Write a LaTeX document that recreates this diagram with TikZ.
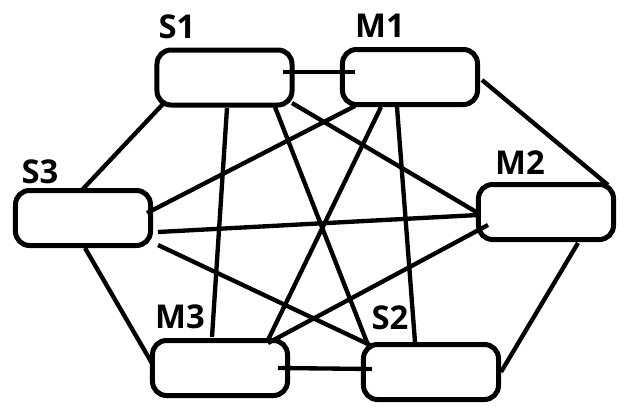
\documentclass[tikz,border=0pt]{standalone}
\usepackage{fontspec}
\setmainfont{Open Sans}
\usetikzlibrary{calc}
\begin{document}
\begin{tikzpicture}[x=0.03cm,y=-0.03cm,
  box/.style={draw,line width=0.15cm,rounded corners=0.42cm,minimum width=4.05cm,minimum height=1.65cm,inner sep=0pt},
  lbl/.style={inner sep=0pt,font=\fontsize{28}{30}\selectfont\bfseries},
  link/.style={line width=0.13cm}]
\useasboundingbox (0,0) rectangle (633,417);
% boxes
\node[box] (S1) at (224.5,77.5) {};
\node[box] (M1) at (410,77) {};
\node[box] (S3) at (83,218) {};
\node[box] (M2) at (546,212) {};
\node[box] (M3) at (220,368) {};
\node[box] (S2) at (431,372) {};
% labels
\node[lbl] (lS1) at (177,27) {S1};
\node[lbl] (lM1) at (380,26) {M1};
\node[lbl] (lS3) at (40,172) {S3};
\node[lbl] (lM2) at (520,163) {M2};
\node[lbl] (lM3) at (180,317) {M3};
\node[lbl] (lS2) at (390,318) {S2};
% links between every pair of boxes
\draw[link] ($(S1)+(58.5,-5.5)$) -- ($(M1)+(-55,-5)$);
\draw[link] ($(S1)+(-61.5,26.5)$) -- ($(S3)+(-1,-28)$);
\draw[link] ($(S1)+(2.5,30.5)$) -- ($(M3)+(-8,-31)$);
\draw[link] ($(S1)+(50.5,29.5)$) -- ($(S2)+(-63,-27)$);
\draw[link] ($(S1)+(67.5,25.5)$) -- ($(M2)+(-68,1)$);
\draw[link] ($(M1)+(-55,29)$) -- ($(S3)+(64,-5)$);
\draw[link] ($(M1)+(-29,30)$) -- ($(M3)+(48,-28)$);
\draw[link] ($(M1)+(-13,30)$) -- ($(S2)+(-16,-30)$);
\draw[link] ($(M1)+(72,3)$) -- ($(M2)+(62,-27)$);
\draw[link] ($(S3)+(75,14)$) -- ($(M2)+(-68,3)$);
\draw[link] ($(S3)+(2,30)$) -- ($(M3)+(-67,-3)$);
\draw[link] ($(S3)+(75,27)$) -- ($(S2)+(-61,-27)$);
\draw[link] ($(M2)+(-58,13)$) -- ($(M3)+(48,-25)$);
\draw[link] ($(M2)+(32,31)$) -- ($(S2)+(70,0)$);
\draw[link] ($(M3)+(58,0)$) -- ($(S2)+(-59,-3)$);
\end{tikzpicture}
\end{document}
